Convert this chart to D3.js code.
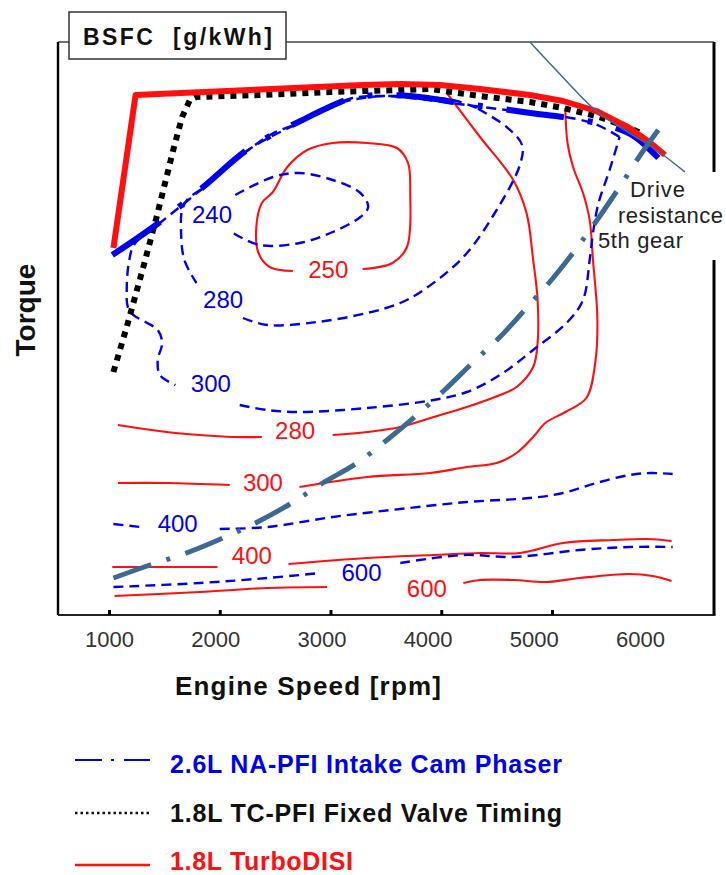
<!DOCTYPE html>
<html>
<head>
<meta charset="utf-8">
<script src="https://cdn.jsdelivr.net/npm/d3@7"></script>
<style>
  html, body { margin: 0; padding: 0; background: #fff; }
  svg { display: block; font-family: "Liberation Sans", Arial, sans-serif; }
</style>
</head>
<body>
<svg id="chart" width="726" height="875"></svg>
<script>
// ---------- axis values ----------
const rpmTicks = [1000, 2000, 3000, 4000, 5000];
const rpmTickLabels = [1000, 2000, 3000, 4000, 5000, 6000];

// ---------- full-load torque curves  [rpm, torque Nm] ----------
const wotTurboDisi = [[1040,183.5],[1240,260],[2270,262.5],[3290,265],[3630,265.5],[3990,265],
  [4350,263],[4800,260],[5100,257],[5400,252],[5700,243.5],[5890,236],[6020,230]];
const wotTcPfi = [[1040,121.5],[1160,144],[1310,174],[1430,199],[1580,232.5],[1660,249],[1730,257.5],
  [1790,259],[2360,260],[3000,261.5],[3630,262.5],[3900,263],[4350,259.5],[4800,256.5],[5100,253.5],
  [5430,249],[5660,244.5],[5820,240.5]];
const wotNaPfi = [[1030,180],[1460,196.5],[1850,214],[2270,233.5],[2470,240],[2710,246.5],[2950,253],
  [3200,258.5],[3470,260],[3720,259.5],[4230,255.5],[4490,253.5],[4740,251.5],[5270,247.5],
  [5520,244.5],[5750,239],[5960,228.5]];

// ---------- road load in 5th gear and constant-power line ----------
const roadLoad5th = [[1040,18.5],[1370,25],[1700,31],[2030,38.5],[2340,46.5],[2650,56],[2930,66],
  [3240,76],[3510,87.5],[3780,100],[4030,112.5],[4290,126.5],[4530,139],[4770,153.5],[5010,168.5],
  [5210,182.5],[5420,198.5],[5610,214],[5810,231],[5960,242.5]];
const powerLine = [[4800,286.5],[5070,270.5],[5400,252],[5700,241],[5980,231],[6200,221.5]];

// ---------- BSFC contours, 2.6L NA-PFI (each split where its label sits) ----------
const na240 = [[[2140,210],[2480,219],[2720,221],[3020,217.5],[3270,211],[3340,204],[3270,199],
  [3020,191.5],[2720,186],[2360,185],[2120,191]]];
const na280 = [
  [[4320,253.5],[4140,257],[3900,259],[3630,259.5],[3360,259],[3090,256],[2710,246],[2470,240.5],
   [2270,233],[2000,221],[1850,213.5],[1710,208],[1660,202.5],[1650,192.5],[1680,177.5],[1790,166]],
  [[2210,148.5],[2430,145],[2880,146.5],[3330,151],[3630,156],[3840,162.5],[4200,179],[4500,202.5],
   [4710,225],[4730,235],[4590,244],[4320,253.5]]];
const na300 = [
  [[5610,239],[5390,245.5],[5070,249.5],[4740,251.5],[4230,255],[3720,258.5],[3470,259.5],[3200,258.5],
   [2950,253],[2710,246],[2270,233],[1850,213.5],[1460,196],[1230,185.5],[1180,176.5],[1160,162.5],
   [1170,154],[1220,150],[1330,146.5],[1440,142.5],[1480,136],[1440,127.5],[1460,120],[1600,115]],
  [[2180,105],[2430,102.5],[2720,101.5],[3330,103.5],[3930,107.5],[4230,111.5],[4530,120],[4830,132.5],
   [5140,146.5],[5280,157.5],[5340,177.5],[5370,191],[5420,206],[5520,222.5],[5610,239]]];
const na400 = [
  [[1040,45.5],[1280,44]],
  [[2000,43],[2430,44],[3020,49],[3630,53],[4230,56.5],[4800,58.5],[5100,61],[5400,66],[5700,70],
   [5890,71],[6090,70.5]]];
const na600 = [
  [[1040,14],[1820,16],[2430,18.5],[2910,21]],
  [[3630,26],[4200,30],[4650,29],[5250,32.5],[5700,34],[6090,34]]];

// ---------- BSFC contours, 1.8L TurboDISI ----------
const td250 = [[[3290,173],[3560,176],[3690,184],[3720,211],[3700,226],[3600,233.5],[3330,236],
  [3020,236],[2790,232.5],[2610,224],[2480,211.5],[2380,206],[2330,194],[2350,181],[2450,174],[2660,172]]];
const td280 = [
  [[4050,261],[4350,239],[4650,217.5],[4770,201],[4830,177.5],[4870,157.5],[4870,136],[4830,124],
   [4680,114],[4530,110],[4230,104],[3930,99],[3630,94],[3330,91.5],[3020,90]],
  [[2380,89],[2120,89],[1820,90],[1520,91.5],[1080,95]]];
const td300 = [
  [[5120,253.5],[5140,236],[5190,224],[5280,211],[5340,197.5],[5370,177.5],[5410,147.5],[5390,126],
   [5310,108.5],[5120,101.5],[4940,96],[4830,89],[4680,81],[4500,76],[4230,74],[3900,71],[3330,69],[2720,64]],
  [[2090,65],[1520,66],[1080,66]]];
const td400 = [
  [[1030,24],[1980,24]],
  [[2620,25.5],[3330,28.5],[3930,30],[4350,31],[4710,31],[5100,36],[5550,37.5],[5860,38],[6080,37]]];
const td600 = [
  [[1050,9.5],[1820,11.5],[2430,13.5],[2970,14]],
  [[4200,16],[4350,17.5],[4650,17.5],[4950,16.5],[5250,18.5],[5700,20.5],[5910,19.5],[6080,17]]];

// label positions [rpm, torque] for each contour level
const naLevels = [240, 280, 300, 400, 600];
const naLabelAt = [[1930,200],[2030,157.5],[1920,115.5],[1620,45.5],[3280,21]];
const tdLevels = [250, 280, 300, 400, 600];
const tdLabelAt = [[2980,172.5],[2680,92],[2390,66],[2290,29.5],[3870,13]];

const legendLabels = ["2.6L NA-PFI Intake Cam Phaser", "1.8L TC-PFI Fixed Valve Timing", "1.8L TurboDISI"];

// ---------- drawing ----------
const svg = d3.select("#chart");
const BLUE = "#0000f0", RED = "#ff1010", STEEL = "#3d6a92";
const frame = { left: 58, right: 714, top: 42, bottom: 615 };

const x = d3.scaleLinear().domain([1000, 5000]).range([109, 552]);
const xLab = d3.scaleLinear().domain([1000, 6000]).range([109, 640]);
const y = d3.scaleLinear().domain([0, 300]).range([615, 15]);

const smooth = d3.line().x(d => x(d[0])).y(d => y(d[1])).curve(d3.curveCatmullRom.alpha(0.5));
const straight = d3.line().x(d => x(d[0])).y(d => y(d[1]));
const mono = d3.line().x(d => x(d[0])).y(d => y(d[1])).curve(d3.curveMonotoneX);

svg.append("rect").attr("width", 726).attr("height", 875).attr("fill", "#fff");

// frame
svg.append("line").attr("x1", frame.left).attr("x2", frame.right).attr("y1", frame.top).attr("y2", frame.top)
  .attr("stroke", "#444").attr("stroke-width", 1.6);
svg.append("line").attr("x1", frame.left).attr("x2", frame.left).attr("y1", frame.top).attr("y2", frame.bottom)
  .attr("stroke", "#000").attr("stroke-width", 2.4);
svg.append("line").attr("x1", frame.left).attr("x2", frame.right + 1.5).attr("y1", frame.bottom).attr("y2", frame.bottom)
  .attr("stroke", "#222").attr("stroke-width", 2);
svg.append("line").attr("x1", frame.right).attr("x2", frame.right).attr("y1", frame.top).attr("y2", 172)
  .attr("stroke", "#000").attr("stroke-width", 3);
svg.append("line").attr("x1", frame.right).attr("x2", frame.right).attr("y1", 260).attr("y2", frame.bottom)
  .attr("stroke", "#000").attr("stroke-width", 3);

// tick marks and tick labels
const tickG = svg.append("g").attr("transform", `translate(0,${frame.bottom})`)
  .call(d3.axisBottom(x).tickValues(rpmTicks).tickSize(-5).tickSizeOuter(0).tickFormat(""));
tickG.select(".domain").remove();
tickG.selectAll(".tick line").attr("stroke", "#000").attr("stroke-width", 3);

const labG = svg.append("g").attr("transform", `translate(0,${frame.bottom})`)
  .call(d3.axisBottom(xLab).tickValues(rpmTickLabels).tickSize(0).tickPadding(16).tickFormat(d3.format("d")));
labG.select(".domain").remove();
labG.selectAll(".tick text").attr("font-size", 22).attr("fill", "#333")
  .attr("font-family", "'Liberation Sans', Arial, sans-serif");

// contour lines
function drawContours(sets, levels, labelAt, color, dashed) {
  sets.forEach((segs, i) => {
    segs.forEach(seg => {
      svg.append("path").attr("d", smooth(seg)).attr("fill", "none")
        .attr("stroke", color).attr("stroke-width", dashed ? 2.4 : 2.1)
        .attr("stroke-dasharray", dashed ? "10,6" : null);
    });
    svg.append("text").attr("x", x(labelAt[i][0])).attr("y", y(labelAt[i][1])).attr("dy", "0.35em")
      .attr("text-anchor", "middle").attr("font-size", 24).attr("fill", color).text(levels[i]);
  });
}
drawContours([td250, td280, td300, td400, td600], tdLevels, tdLabelAt, RED, false);
drawContours([na240, na280, na300, na400, na600], naLevels, naLabelAt, BLUE, true);

// full-load curves
svg.append("path").attr("d", straight(wotTcPfi)).attr("fill", "none")
  .attr("stroke", "#000").attr("stroke-width", 6).attr("stroke-dasharray", "6,6");
svg.append("path").attr("d", mono(wotNaPfi)).attr("fill", "none")
  .attr("stroke", BLUE).attr("stroke-width", 6).attr("stroke-dasharray", "58,24,5,24");
svg.append("path").attr("d", straight(wotTurboDisi)).attr("fill", "none")
  .attr("stroke", RED).attr("stroke-width", 6).attr("stroke-linejoin", "round");

// road load and constant power line
svg.append("path").attr("d", mono(powerLine)).attr("fill", "none")
  .attr("stroke", STEEL).attr("stroke-width", 1.5);
svg.append("path").attr("d", mono(roadLoad5th)).attr("fill", "none")
  .attr("stroke", STEEL).attr("stroke-width", 5).attr("stroke-dasharray", "40,16,4,16");

// annotation
const ann = [["Drive", 630, 197, 55], ["resistance", 618, 223, 105], ["5th gear", 598, 248, 85]];
ann.forEach(a => svg.append("text").attr("x", a[1]).attr("y", a[2]).attr("font-size", 22)
  .attr("fill", "#222").attr("textLength", a[3]).attr("lengthAdjust", "spacing").text(a[0]));

// title box
svg.append("rect").attr("x", 69).attr("y", 12).attr("width", 217).attr("height", 47)
  .attr("fill", "#fff").attr("stroke", "#333").attr("stroke-width", 1.5);
svg.append("text").attr("x", 83).attr("y", 45).attr("font-size", 23).attr("font-weight", "bold")
  .attr("fill", "#111").attr("textLength", 189).attr("lengthAdjust", "spacing")
  .attr("xml:space", "preserve").text("BSFC  [g/kWh]");

// axis titles
svg.append("text").attr("transform", "translate(35,310) rotate(-90)").attr("text-anchor", "middle")
  .attr("font-size", 28).attr("font-weight", "bold").attr("fill", "#111").text("Torque");
svg.append("text").attr("x", 175).attr("y", 695).attr("font-size", 26).attr("font-weight", "bold")
  .attr("fill", "#111").attr("textLength", 266).attr("lengthAdjust", "spacing").text("Engine Speed [rpm]");

// legend
const legY = [760, 813, 865];
const legText = [[773, 392, BLUE], [822, 392, "#111"], [870, 183, RED]];
svg.append("line").attr("x1", 75).attr("x2", 150).attr("y1", legY[0]).attr("y2", legY[0])
  .attr("stroke", BLUE).attr("stroke-width", 2.2).attr("stroke-dasharray", "27,9,3,10");
svg.append("line").attr("x1", 75).attr("x2", 150).attr("y1", legY[1]).attr("y2", legY[1])
  .attr("stroke", "#111").attr("stroke-width", 2.5).attr("stroke-dasharray", "2.5,3");
svg.append("line").attr("x1", 75).attr("x2", 150).attr("y1", legY[2]).attr("y2", legY[2])
  .attr("stroke", RED).attr("stroke-width", 2.5);
legendLabels.forEach((t, i) => {
  svg.append("text").attr("x", 170).attr("y", legText[i][0]).attr("font-size", 25).attr("font-weight", "bold")
    .attr("fill", legText[i][2]).attr("textLength", legText[i][1]).attr("lengthAdjust", "spacing").text(t);
});
</script>
</body>
</html>
